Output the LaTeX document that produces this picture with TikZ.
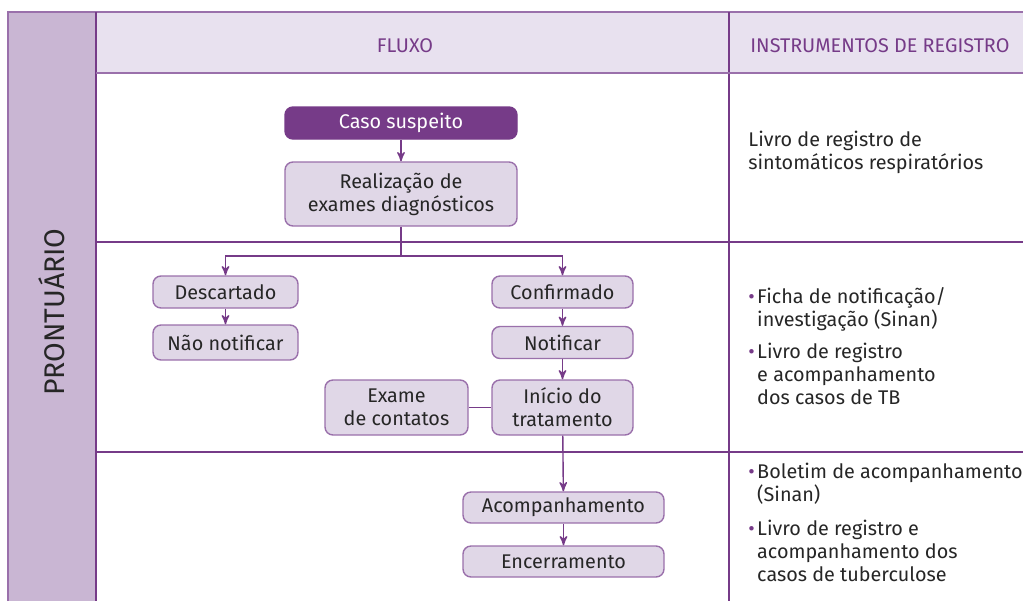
\documentclass[tikz,border=0pt]{standalone}
\usepackage{fontspec}
\setmainfont{Fira Sans}
\usetikzlibrary{arrows,positioning}

\definecolor{roxo}{HTML}{763B88}
\definecolor{roxoclaro}{HTML}{9A70AB}
\definecolor{lilas}{HTML}{C9B6D3}
\definecolor{cabec}{HTML}{E8E1EF}
\definecolor{caixa}{HTML}{E0D7E7}
\definecolor{texto}{HTML}{262626}

\newcommand{\bul}{\textcolor{roxo}{\textbullet}\kern1.2pt}
\newcommand{\ind}{\hphantom{\textbullet}\kern1.2pt}

\begin{document}
\begin{tikzpicture}[->,>=stealth',x=0.5pt,y=-0.5pt,
        font=\fontsize{9.9}{11.5}\selectfont,
        box/.style={draw=roxoclaro,fill=caixa,rounded corners=4pt,line width=0.7pt,
          align=center,text=texto,inner sep=0pt},
        grid/.style={-,draw=roxo,line width=1pt},
        instr/.style={anchor=north west,align=left,text=texto,inner sep=0pt}]

  \useasboundingbox (0,0) rectangle (1023,601);

  % tabela
  \fill[lilas] (8,12) rectangle (96,601);
  \fill[cabec] (96,12) rectangle (1023,73);
  \draw[-,roxoclaro,line width=0.8pt] (8,601) -- (8,12) -- (1023,12);
  \draw[grid] (96,12) -- (96,601);
  \draw[grid] (729,12) -- (729,601);
  \draw[-,roxoclaro,line width=0.8pt] (96,73) -- (1023,73);
  \draw[grid] (96,242) -- (1023,242);
  \draw[grid] (96,452) -- (1023,452);

  \node[rotate=90,text=texto,font=\fontsize{14.2}{16}\selectfont] (pront) at (52,312) {PRONTUÁRIO};
  \node[text=roxo] (fluxo) at (405,46) {FLUXO};
  \node[text=roxo,anchor=west,inner sep=0pt] (instrum) at (750,46) {INSTRUMENTOS DE REGISTRO};

  % fluxo
  \node[box,fill=roxo,draw=roxo,text=white,minimum width=116pt,minimum height=16pt] (caso) at (401,123) {Caso suspeito};
  \node[box,minimum width=116pt,minimum height=32pt] (exames) at (401,194) {Realização de\\exames diagnósticos};
  \coordinate (split) at (401,256);
  \node[box,minimum width=72.5pt,minimum height=16pt] (desc) at (225.5,292) {Descartado};
  \node[box,minimum width=72.5pt,minimum height=17.5pt] (naonotif) at (225.5,342.5) {Não notificar};
  \node[box,minimum width=70.5pt,minimum height=16pt] (conf) at (562.5,292) {Confirmado};
  \node[box,minimum width=70.5pt,minimum height=16pt] (notif) at (562.5,342.5) {Notificar};
  \node[box,minimum width=70.5pt,minimum height=27.5pt] (inicio) at (562.5,407.5) {Início do\\tratamento};
  \node[box,minimum width=71.5pt,minimum height=27.5pt] (contatos) at (396.5,407.5) {Exame\\de contatos};
  \node[box,minimum width=100.5pt,minimum height=15.5pt] (acomp) at (563.5,507.5) {Acompanhamento};
  \node[box,minimum width=100.5pt,minimum height=15.5pt] (encerr) at (563.5,561.5) {Encerramento};

  \draw[roxo,line width=0.7pt] (caso) -- (exames);
  \draw[-,roxo,line width=0.7pt] (exames) -- (split);
  \draw[roxo,line width=0.7pt] (split) -| (desc);
  \draw[roxo,line width=0.7pt] (split) -| (conf);
  \draw[roxo,line width=0.7pt] (desc) -- (naonotif);
  \draw[roxo,line width=0.7pt] (conf) -- (notif);
  \draw[roxo,line width=0.7pt] (notif) -- (inicio);
  \draw[-,roxo,line width=0.7pt] (contatos) -- (inicio);
  \draw[roxo,line width=0.7pt] (inicio) -- (acomp);
  \draw[roxo,line width=0.7pt] (acomp) -- (encerr);

  % instrumentos
  \node[instr] (livro1) at (748,131) {Livro de registro de\\sintomáticos respiratórios};
  \node[instr] (ficha) at (748,287) {\bul Ficha de notificação/\\\ind investigação (Sinan)};
  \node[instr] (livro2) at (748,343) {\bul Livro de registro\\\ind e acompanhamento\\\ind dos casos de TB};
  \node[instr] (boletim) at (748,463) {\bul Boletim de acompanhamento\\\ind (Sinan)};
  \node[instr] (livro3) at (748,520) {\bul Livro de registro e\\\ind acompanhamento dos\\\ind casos de tuberculose};

\end{tikzpicture}
\end{document}
